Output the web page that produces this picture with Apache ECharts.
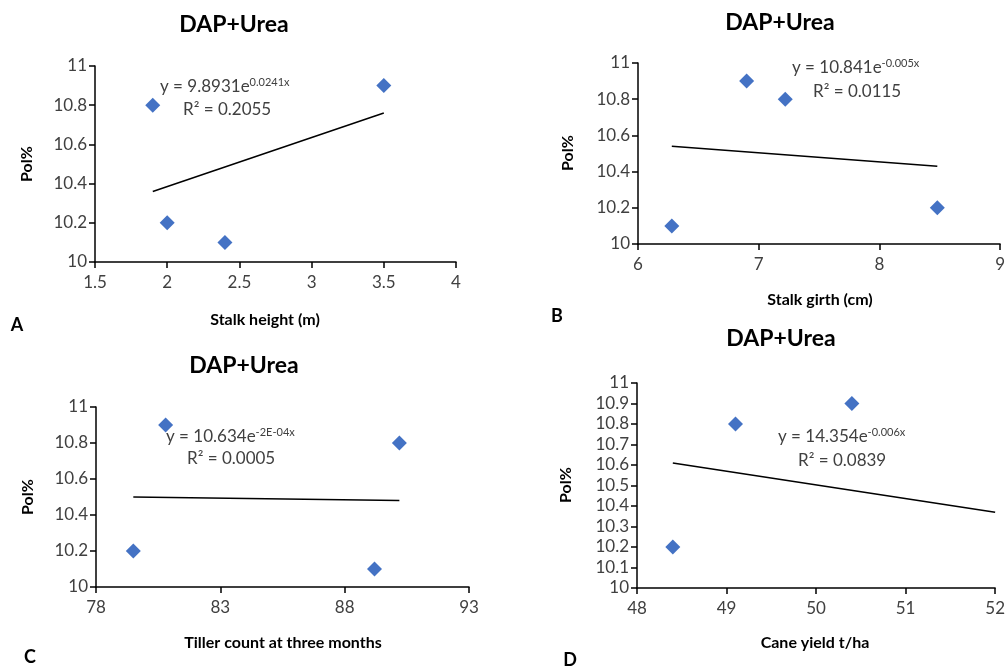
<!DOCTYPE html>
<html>
<head>
<meta charset="utf-8">
<script src="https://cdn.jsdelivr.net/npm/echarts@6/dist/echarts.min.js"></script>
<style>
  html, body { margin: 0; padding: 0; background: #fff; }
  #chart { width: 1008px; height: 668px; }
</style>
</head>
<body>
<div id="chart"></div>
<script>
// data
const heightPts = [[1.9, 10.8], [2.0, 10.2], [2.4, 10.1], [3.5, 10.9]]
const heightTrend = [[1.9, 10.36], [3.5, 10.76]]
const girthPts = [[6.28, 10.1], [6.9, 10.9], [7.22, 10.8], [8.48, 10.2]]
const girthTrend = [[6.28, 10.54], [8.48, 10.43]]
const tillerPts = [[79.5, 10.2], [80.8, 10.9], [89.2, 10.1], [90.2, 10.8]]
const tillerTrend = [[79.5, 10.5], [90.2, 10.48]]
const yieldPts = [[48.4, 10.2], [49.1, 10.8], [50.4, 10.9]]
const yieldTrend = [[48.4, 10.61], [52, 10.37]]

const xRanges = [[1.5, 4, 0.5], [6, 9, 1], [78, 93, 5], [48, 52, 1]]
const yRanges = [[10, 11, 0.2], [10, 11, 0.2], [10, 11, 0.2], [10, 11, 0.1]]

const FONT = 'Lato'
const BLUE = '#4472C4'

var chart = echarts.init(document.getElementById('chart'))

var grids = [
  { left: 95, top: 66, width: 361, height: 196 },
  { left: 638, top: 63, width: 363, height: 181 },
  { left: 96, top: 407, width: 373, height: 180 },
  { left: 637, top: 383, width: 359, height: 205 }
]

function axisBase() {
  return {
    type: 'value',
    axisLine: { show: true, lineStyle: { color: '#000', width: 1.5 } },
    axisTick: { show: true, length: 6, lineStyle: { color: '#000', width: 1.5 } },
    splitLine: { show: false }
  }
}

var xAxes = xRanges.map((r, i) => Object.assign(axisBase(), {
  gridIndex: i, min: r[0], max: r[1], interval: r[2],
  axisLabel: { color: '#404040', fontSize: 17, fontFamily: FONT, margin: 12 }
}))
var yAxes = yRanges.map((r, i) => Object.assign(axisBase(), {
  gridIndex: i, min: r[0], max: r[1], interval: r[2],
  axisLabel: { color: '#404040', fontSize: 17, fontFamily: FONT, margin: 8 }
}))

var ptSets = [heightPts, girthPts, tillerPts, yieldPts]
var trendSets = [heightTrend, girthTrend, tillerTrend, yieldTrend]
var series = []
ptSets.forEach((pts, i) => {
  series.push({
    type: 'line', xAxisIndex: i, yAxisIndex: i, data: trendSets[i],
    showSymbol: false, lineStyle: { color: '#000', width: 1.5 }, silent: true
  })
  series.push({
    type: 'scatter', xAxisIndex: i, yAxisIndex: i, data: pts,
    symbol: 'diamond', symbolSize: [15, 15], itemStyle: { color: BLUE, opacity: 1 }
  })
})

function txt(x, y, s, size, bold, align, rot) {
  return {
    type: 'text', x: x, y: y, rotation: rot || 0,
    style: {
      text: s, fontSize: size, fontFamily: FONT, fontWeight: bold ? 'bold' : 'normal',
      fill: bold ? '#000' : '#404040', align: align || 'center', verticalAlign: 'middle'
    }
  }
}

function eq(x, y, base, sup) {
  return {
    type: 'text', x: x, y: y,
    style: {
      text: '{b|' + base + '}{s|' + sup + '}', fontFamily: FONT, align: 'left', verticalAlign: 'middle',
      rich: {
        b: { fontSize: 17, fontFamily: FONT, fill: '#404040', lineHeight: 20 },
        s: { fontSize: 11, fontFamily: FONT, fill: '#404040', lineHeight: 20, verticalAlign: 'top', padding: [0, 0, 6, 0] }
      }
    }
  }
}

var titles = [[234, 25], [780, 23], [244, 366], [781, 339]]
var xNames = [['Stalk height (m)', 265, 320], ['Stalk girth (cm)', 820, 300],
  ['Tiller count at three months', 283, 643], ['Cane yield t/ha', 815, 643]]
var yNames = [[27, 164], [568, 153], [28, 497], [566, 485]]
var letters = [['A', 17, 325], ['B', 557, 316], ['C', 30, 657], ['D', 570, 660]]
var eqs = [
  [160, 87, 'y = 9.8931e', '0.0241x', 183, 110, 'R² = 0.2055'],
  [792, 68, 'y = 10.841e', '-0.005x', 813, 92, 'R² = 0.0115'],
  [166, 437, 'y = 10.634e', '-2E-04x', 187, 459, 'R² = 0.0005'],
  [778, 437, 'y = 14.354e', '-0.006x', 798, 461, 'R² = 0.0839']
]

var graphics = []
titles.forEach(t => graphics.push(txt(t[0], t[1], 'DAP+Urea', 23, true)))
xNames.forEach(t => graphics.push(txt(t[1], t[2], t[0], 16, true)))
yNames.forEach(t => graphics.push(txt(t[0], t[1], 'Pol%', 16, true, 'center', Math.PI / 2)))
letters.forEach(t => graphics.push(txt(t[1], t[2], t[0], 18, true)))
eqs.forEach(e => {
  graphics.push(eq(e[0], e[1], e[2], e[3]))
  graphics.push(txt(e[4], e[5], e[6], 17, false, 'left'))
})

chart.setOption({
  animation: false,
  grid: grids,
  xAxis: xAxes,
  yAxis: yAxes,
  series: series,
  graphic: graphics
})
</script>
</body>
</html>
